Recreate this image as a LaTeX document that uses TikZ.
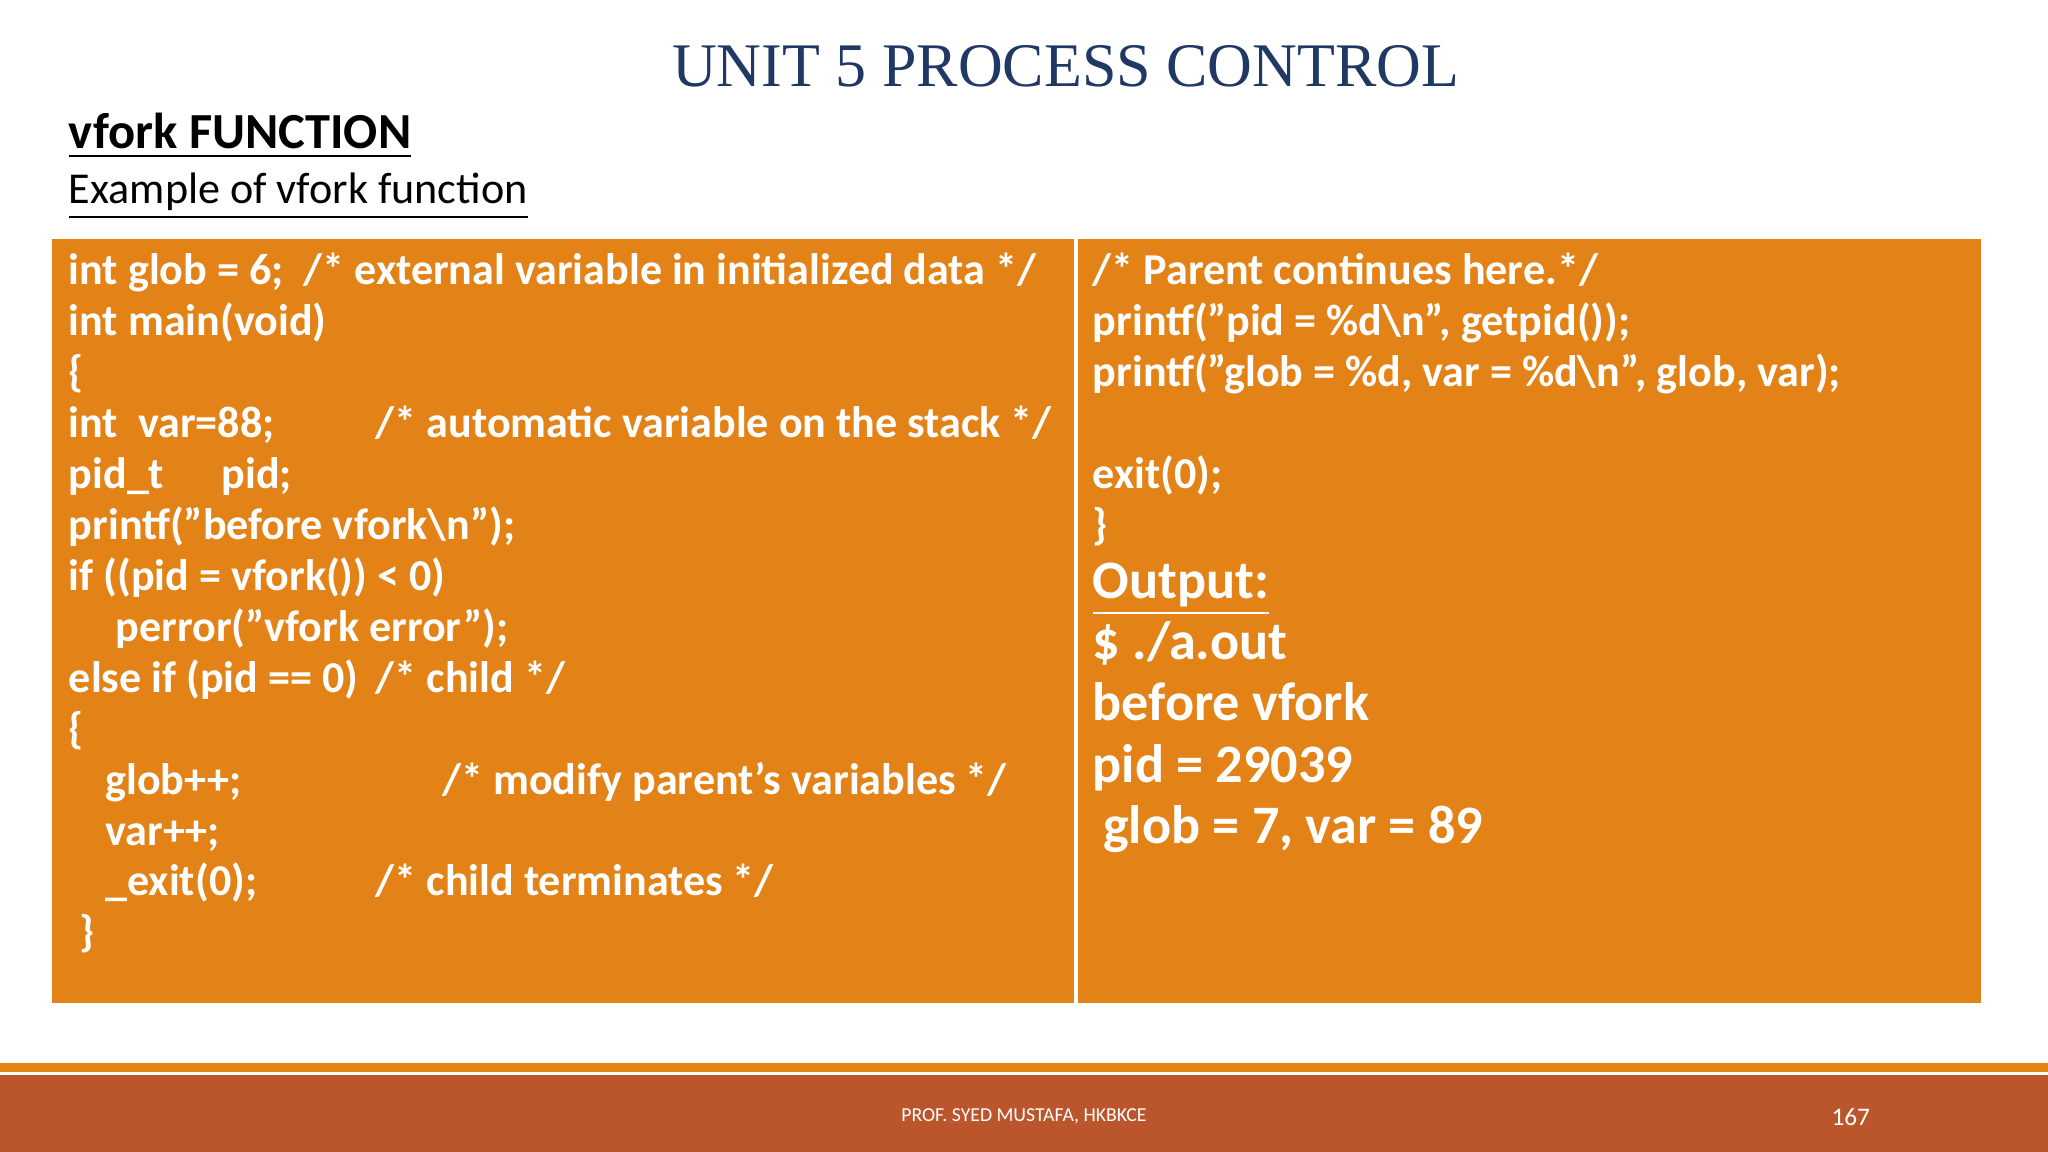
\documentclass[tikz,border=0pt]{standalone}
\usepackage{fontspec}
\setmainfont{Carlito}
\newfontfamily\titlefont{Liberation Serif}
\definecolor{boxorange}{HTML}{E38217}
\definecolor{bandrust}{HTML}{BB552B}
\definecolor{titlenavy}{HTML}{1F3864}
\tikzset{
  code/.style={anchor=base west,inner sep=0pt,text=white,font=\fontsize{9.6}{11}\selectfont\bfseries},
  outp/.style={anchor=base west,inner sep=0pt,text=white,font=\fontsize{11.8}{13}\selectfont\bfseries},
}
\begin{document}
\begin{tikzpicture}[x=0.01cm,y=-0.01cm]
  \useasboundingbox (0,0) rectangle (1568,882);
  % headings
  \node[anchor=base,text=titlenavy,font=\titlefont\fontsize{13.5}{15}\selectfont] (title) at (816,66) {UNIT 5 PROCESS CONTROL};
  \node[anchor=base west,inner sep=0pt,font=\fontsize{11}{13}\selectfont\bfseries] (head) at (52,114) {\underline{vfork FUNCTION}};
  \node[anchor=base west,inner sep=0pt,font=\fontsize{9.6}{11}\selectfont] (sub) at (52,156) {\underline{Example of vfork function}};
  % code panels
  \fill[boxorange] (40,183) rectangle (822,768);
  \fill[boxorange] (825,183) rectangle (1517,768);
  % left column
  \node[code] (l1) at (52,218) {int glob = 6;\ \ /* external variable in initialized data */};
  \node[code] (l2) at (52,257) {int main(void)};
  \node[code] (l3) at (52,296) {\{};
  \node[code] (l4) at (52,335) {int\ \ var=88;};
  \node[code] (l4c) at (287,335) {/* automatic variable on the stack */};
  \node[code] (l5) at (52,374) {pid\_t};
  \node[code] (l5b) at (169,374) {pid;};
  \node[code] (l6) at (52,413) {printf("before vfork\textbackslash n");};
  \node[code] (l7) at (52,452) {if ((pid = vfork()) < 0)};
  \node[code] (l8) at (88,491) {perror("vfork error");};
  \node[code] (l9) at (52,530) {else if (pid == 0)};
  \node[code] (l9c) at (287,530) {/* child */};
  \node[code] (l10) at (52,569) {\{};
  \node[code] (l11) at (80,608) {glob++;};
  \node[code] (l11c) at (338,608) {/* modify parent's variables */};
  \node[code] (l12) at (80,647) {var++;};
  \node[code] (l13) at (80,686) {\_exit(0);};
  \node[code] (l13c) at (287,686) {/* child terminates */};
  \node[code] (l14) at (60,725) {\}};
  % right column
  \node[code] (r1) at (836,218) {/* Parent continues here.*/};
  \node[code] (r2) at (836,257) {printf("pid = \%d\textbackslash n", getpid());};
  \node[code] (r3) at (836,296) {printf("glob = \%d, var = \%d\textbackslash n", glob, var);};
  \node[code] (r4) at (836,374) {exit(0);};
  \node[code] (r5) at (836,413) {\}};
  \node[outp] (o1) at (836,458) {\underline{Output:}};
  \node[outp] (o2) at (836,505) {\$ ./a.out};
  \node[outp] (o3) at (836,552) {before vfork};
  \node[outp] (o4) at (836,599) {pid = 29039};
  \node[outp] (o5) at (844,646) {glob = 7, var = 89};
  % footer
  \fill[boxorange] (0,814) rectangle (1568,821);
  \fill[bandrust] (0,823) rectangle (1568,882);
  \node[text=white,font=\fontsize{4.3}{5}\selectfont] (who) at (784,855) {PROF. SYED MUSTAFA, HKBKCE};
  \node[text=white,font=\fontsize{5.5}{6}\selectfont] (page) at (1417,855) {167};
\end{tikzpicture}
\end{document}
